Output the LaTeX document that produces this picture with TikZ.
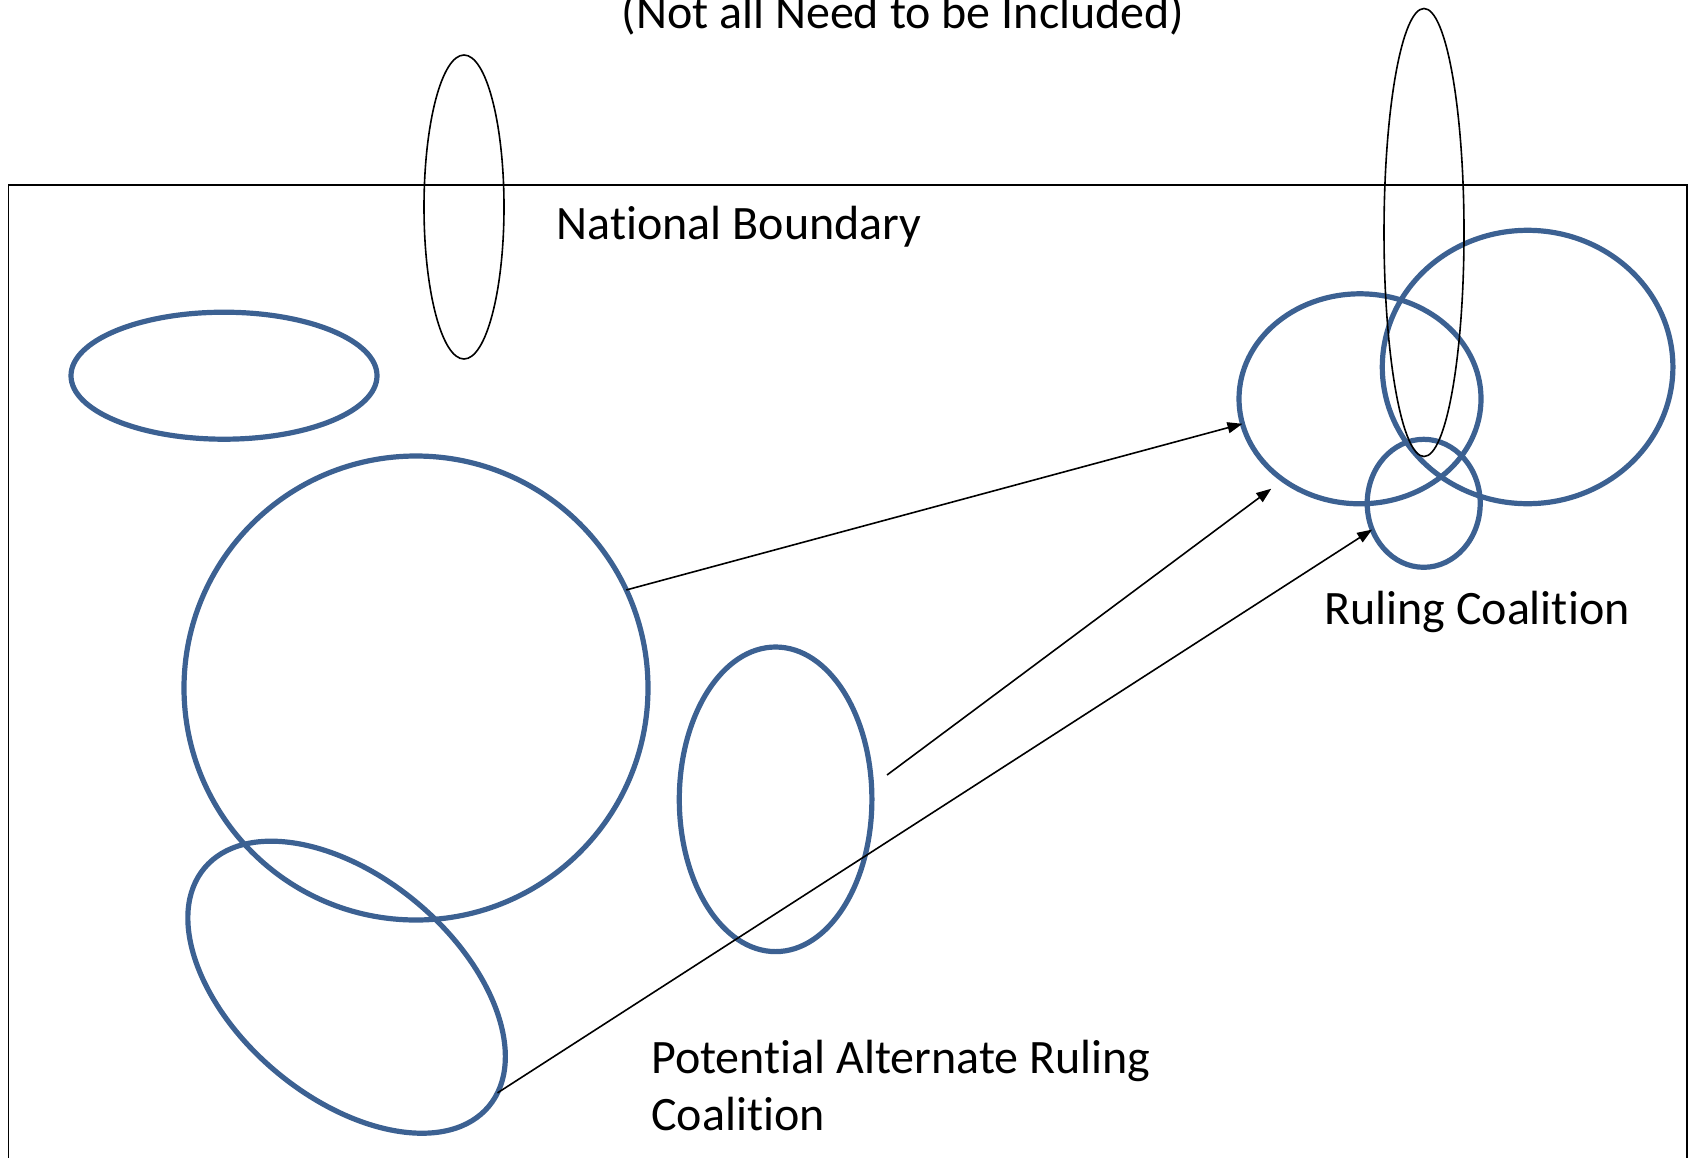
\documentclass[tikz,border=0pt]{standalone}
\usepackage{fontspec}
\setmainfont{Carlito}[Ligatures={NoCommon}]
\usetikzlibrary{shapes.geometric,arrows.meta}
\definecolor{olblue}{HTML}{3C6192}
\newcommand{\brk}{\kern0pt }
\begin{document}
\begin{tikzpicture}[x=1pt,y=-1pt,
  blueell/.style={ellipse,draw=olblue,line width=5.2pt,inner sep=0pt,outer sep=0pt},
  blackell/.style={ellipse,draw=black,line width=1.6pt,inner sep=0pt,outer sep=0pt},
  lbl/.style={font=\fontsize{48}{57}\selectfont,inner sep=0pt},
  arr/.style={line width=1.6pt,-{Triangle[length=15pt,width=11pt]}}]
\useasboundingbox (0,0) rectangle (1688,1157);
% national boundary
\node[draw,line width=1.8pt,inner sep=0pt,anchor=north west,minimum width=1678.5pt,minimum height=1100pt] (nation) at (7.5,184) {};
% blue groups
\node[blueell,minimum width=306pt,minimum height=127pt] (topleft) at (224,375.7) {};
\node[blueell,minimum width=464pt,minimum height=464pt] (big) at (416,688) {};
\node[blueell,minimum width=371pt,minimum height=220pt,rotate=-40] (tilt) at (346.6,987.2) {};
\node[blueell,minimum width=192.6pt,minimum height=304.6pt] (mid) at (775.6,799.3) {};
\node[blueell,minimum width=242pt,minimum height=210pt] (rA) at (1360,398.8) {};
\node[blueell,minimum width=290.6pt,minimum height=273.4pt] (rB) at (1527.6,367) {};
\node[blueell,minimum width=113pt,minimum height=128pt] (sm) at (1423.7,503.3) {};
% black thin groups
\node[blackell,minimum width=80pt,minimum height=304pt] (v1) at (464,207) {};
\node[blackell,minimum width=80pt,minimum height=448pt] (v2) at (1424,232.5) {};
% arrows
\coordinate (b1) at (887,775);
\coordinate (b2) at (1271.3,488.7);
\draw[arr] (big.25) -- (rA.192);
\draw[arr] (b1) -- (b2);
\draw[arr] (tilt.5) -- (sm.207);
% labels
\node[lbl,anchor=base] (title) at (903,28) {(Not all Need to be Included)};
\node[lbl,anchor=base west] (natl) at (556.6,239) {Nat\brk ional Boundary};
\node[lbl,anchor=base west] (ruling) at (1324,624.5) {Ruling Coalit\brk ion};
\node[lbl,anchor=base west] (potential1) at (651,1073) {Potent\brk ial Alternate Ruling};
\node[lbl,anchor=base west] (potential2) at (651,1130) {Coalit\brk ion};
\end{tikzpicture}
\end{document}
